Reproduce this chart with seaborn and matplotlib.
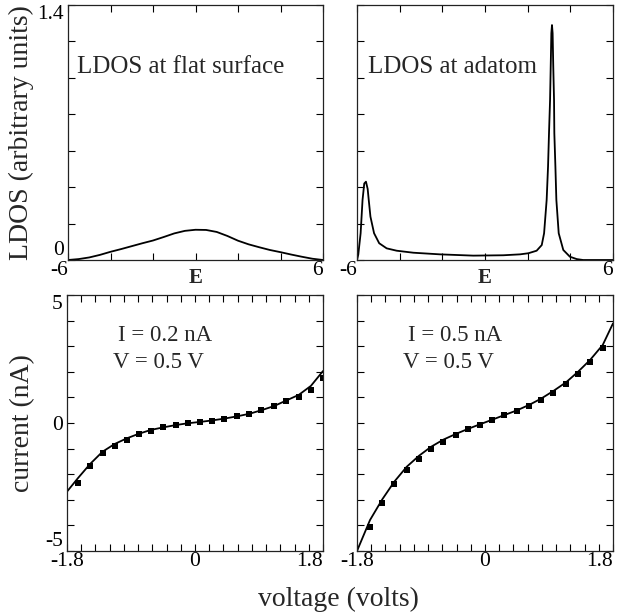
import matplotlib
matplotlib.use('Agg')
import matplotlib.pyplot as plt
import seaborn as sns

# LDOS at flat surface (top left)
e_flat = [-6.0, -5.5, -5.0, -4.5, -4.0, -3.5, -3.0, -2.5, -2.0, -1.5, -1.0, -0.5, 0.0,
          0.5, 1.0, 1.5, 2.0, 2.5, 3.0, 3.5, 4.0, 4.5, 5.0, 5.5, 6.0]
ldos_flat = [0.0, 0.005, 0.014, 0.028, 0.045, 0.060, 0.076, 0.092, 0.107, 0.126, 0.146, 0.160, 0.166,
             0.165, 0.154, 0.132, 0.106, 0.086, 0.070, 0.055, 0.043, 0.030, 0.018, 0.007, 0.0]

# LDOS at adatom (top right)
e_adatom = [-6.0, -5.94, -5.83, -5.74, -5.66, -5.58, -5.50, -5.45, -5.37, -5.20, -4.96, -4.61,
            -4.14, -3.36, -2.11, -0.55, 0.86, 1.64, 2.03, 2.42, 2.66, 2.77, 2.89, 2.955, 3.00,
            3.05, 3.08, 3.11, 3.14, 3.17, 3.20, 3.236, 3.25, 3.30, 3.345, 3.455, 3.67, 3.98,
            4.30, 4.60, 5.3, 6.0]
ldos_adatom = [0.0, 0.03, 0.147, 0.33, 0.42, 0.43, 0.39, 0.33, 0.238, 0.147, 0.092, 0.064,
               0.051, 0.040, 0.031, 0.024, 0.026, 0.031, 0.037, 0.051, 0.082, 0.147, 0.33, 0.513,
               0.696, 0.879, 1.062, 1.245, 1.29, 1.245, 1.062, 0.879, 0.696, 0.513, 0.33, 0.147,
               0.055, 0.018, 0.005, 0.0, 0.0, 0.0]

# I-V, I = 0.2 nA (bottom left)
v_left = [-1.645, -1.475, -1.30, -1.13, -0.96, -0.79, -0.62, -0.445, -0.27, -0.10, 0.065,
          0.24, 0.41, 0.59, 0.765, 0.935, 1.11, 1.285, 1.46, 1.63, 1.805]
i_left = [-2.33, -1.68, -1.18, -0.89, -0.65, -0.43, -0.30, -0.17, -0.08, -0.01, 0.03,
          0.09, 0.17, 0.27, 0.35, 0.51, 0.66, 0.86, 1.03, 1.29, 1.75]
v_fit_left = [-1.8, -1.645, -1.475, -1.30, -1.13, -0.96, -0.79, -0.62, -0.445, -0.27, -0.10,
              0.065, 0.24, 0.41, 0.59, 0.765, 0.935, 1.11, 1.285, 1.46, 1.63, 1.8]
i_fit_left = [-2.68, -2.15, -1.60, -1.12, -0.82, -0.60, -0.42, -0.27, -0.17, -0.08, -0.01,
              0.04, 0.10, 0.17, 0.26, 0.36, 0.50, 0.66, 0.88, 1.10, 1.45, 2.03]

# I-V, I = 0.5 nA (bottom right)
v_right = [-1.617, -1.444, -1.275, -1.101, -0.928, -0.759, -0.586, -0.412, -0.239, -0.070,
           0.103, 0.272, 0.446, 0.623, 0.788, 0.961, 1.140, 1.304, 1.477, 1.656]
i_right = [-4.05, -3.11, -2.38, -1.84, -1.41, -1.03, -0.73, -0.48, -0.25, -0.07,
           0.12, 0.30, 0.47, 0.68, 0.90, 1.18, 1.51, 1.91, 2.37, 2.92]
v_fit_right = [-1.8, -1.617, -1.444, -1.275, -1.101, -0.928, -0.759, -0.586, -0.412, -0.239,
               -0.070, 0.103, 0.272, 0.446, 0.623, 0.788, 0.961, 1.140, 1.304, 1.477, 1.656, 1.8]
i_fit_right = [-5.0, -3.79, -2.98, -2.29, -1.71, -1.28, -0.93, -0.65, -0.43, -0.23,
               -0.05, 0.13, 0.31, 0.49, 0.71, 0.95, 1.25, 1.59, 1.99, 2.46, 3.05, 3.89]

# ticks and labels
e_ticks = [-6, -4, -2, 0, 2, 4, 6]
e_ticklabels = ['-6', '', '', '', '', '', '6']
ldos_ticks = [0, 0.2, 0.4, 0.6, 0.8, 1.0, 1.2, 1.4]
ldos_ticklabels = ['0', '', '', '', '', '', '', '1.4']
v_ticks = [-1.8, -1.6, -1.4, -1.2, -1.0, -0.8, -0.6, -0.4, -0.2, 0.0,
           0.2, 0.4, 0.6, 0.8, 1.0, 1.2, 1.4, 1.6, 1.8]
v_ticklabels = ['-1.8'] + [''] * 8 + ['0'] + [''] * 8 + ['1.8']
i_ticks = [-5, -4, -3, -2, -1, 0, 1, 2, 3, 4, 5]
i_ticklabels = ['-5', '', '', '', '', '0', '', '', '', '', '5']

sns.set_style('ticks')
plt.rcParams['font.family'] = ['Liberation Serif', 'DejaVu Serif']

TICK_SIZE = 15.5
LABEL_SIZE = 20


def style_axes(ax, xt, xtl, yt, ytl, xlim, ylim, show_y=True, xha=None):
    ax.set_xlim(xlim)
    ax.set_ylim(ylim)
    ax.set_xticks(xt)
    ax.set_xticklabels(xtl)
    ax.set_yticks(yt)
    ax.set_yticklabels(ytl if show_y else [''] * len(yt))
    ax.set_xlabel('')
    ax.set_ylabel('')
    ax.tick_params(direction='in', top=True, right=True, length=5, width=0.8,
                   labelsize=TICK_SIZE, colors='black')
    ax.tick_params(axis='x', pad=1)
    ax.tick_params(axis='y', pad=3)
    for sp in ax.spines.values():
        sp.set_linewidth(0.9)
        sp.set_color('#222222')
    # first and last y labels sit inside the axis range
    ylabs = ax.get_yticklabels()
    ylabs[0].set_va('bottom')
    ylabs[-1].set_va('top')
    if xha is not None:
        labs = ax.get_xticklabels()
        for lab, ha in zip(labs, xha):
            lab.set_ha(ha)


fig = plt.figure(figsize=(6.17, 6.12), dpi=100)
W, H = 617.0, 612.0


def add_ax(x0, y0, x1, y1):
    return fig.add_axes([x0 / W, 1 - y1 / H, (x1 - x0) / W, (y1 - y0) / H])


ax_tl = add_ax(68, 5, 323, 260)
ax_tr = add_ax(357, 5, 613, 260)
ax_bl = add_ax(67, 295, 323, 551)
ax_br = add_ax(357, 295, 613, 551)

line_kw = dict(color='black', linewidth=1.3, sort=False)
pt_kw = dict(color='black', marker='s', s=20, linewidth=0)

sns.lineplot(x=e_flat, y=ldos_flat, ax=ax_tl, **line_kw)
sns.lineplot(x=e_adatom, y=ldos_adatom, ax=ax_tr, **line_kw)
sns.lineplot(x=v_fit_left, y=i_fit_left, ax=ax_bl, **line_kw)
sns.scatterplot(x=v_left, y=i_left, ax=ax_bl, **pt_kw)
sns.lineplot(x=v_fit_right, y=i_fit_right, ax=ax_br, **line_kw)
sns.scatterplot(x=v_right, y=i_right, ax=ax_br, **pt_kw)

e_ha = ['right'] + ['center'] * 5 + ['right']
v_ha = ['center'] * 18 + ['right']
style_axes(ax_tl, e_ticks, e_ticklabels, ldos_ticks, ldos_ticklabels, (-6, 6), (0, 1.4), xha=e_ha)
style_axes(ax_tr, e_ticks, e_ticklabels, ldos_ticks, ldos_ticklabels, (-6, 6), (0, 1.4),
           show_y=False, xha=e_ha)
style_axes(ax_bl, v_ticks, v_ticklabels, i_ticks, i_ticklabels, (-1.8, 1.8), (-5, 5), xha=v_ha)
style_axes(ax_br, v_ticks, v_ticklabels, i_ticks, i_ticklabels, (-1.8, 1.8), (-5, 5),
           show_y=False, xha=v_ha)

# panel annotations
ax_tl.text(-5.58, 1.06, 'LDOS at flat surface', fontsize=18, ha='left', va='center')
ax_tr.text(-5.48, 1.06, 'LDOS at adatom', fontsize=18, ha='left', va='center')
for ax, cur in [(ax_bl, '0.2'), (ax_br, '0.5')]:
    ax.text(-1.08, 3.40, 'I = ' + cur + ' nA', fontsize=16.5, ha='left', va='center')
    ax.text(-1.15, 2.36, 'V = 0.5 V', fontsize=16.5, ha='left', va='center')

for ax in [ax_tl, ax_tr]:
    ax.text(0.5, -0.07, 'E', transform=ax.transAxes, fontsize=15, fontweight='bold',
            ha='center', va='center')

# axis titles
fig.text(21 / W, 1 - 132.5 / H, 'LDOS (arbitrary units)', rotation=90, fontsize=LABEL_SIZE,
         ha='center', va='center')
fig.text(23 / W, 1 - 423 / H, 'current (nA)', rotation=90, fontsize=LABEL_SIZE,
         ha='center', va='center')
fig.text(338 / W, 1 - 599 / H, 'voltage (volts)', fontsize=LABEL_SIZE, ha='center', va='center')

fig.savefig('out.png', dpi=100)
plt.close(fig)
